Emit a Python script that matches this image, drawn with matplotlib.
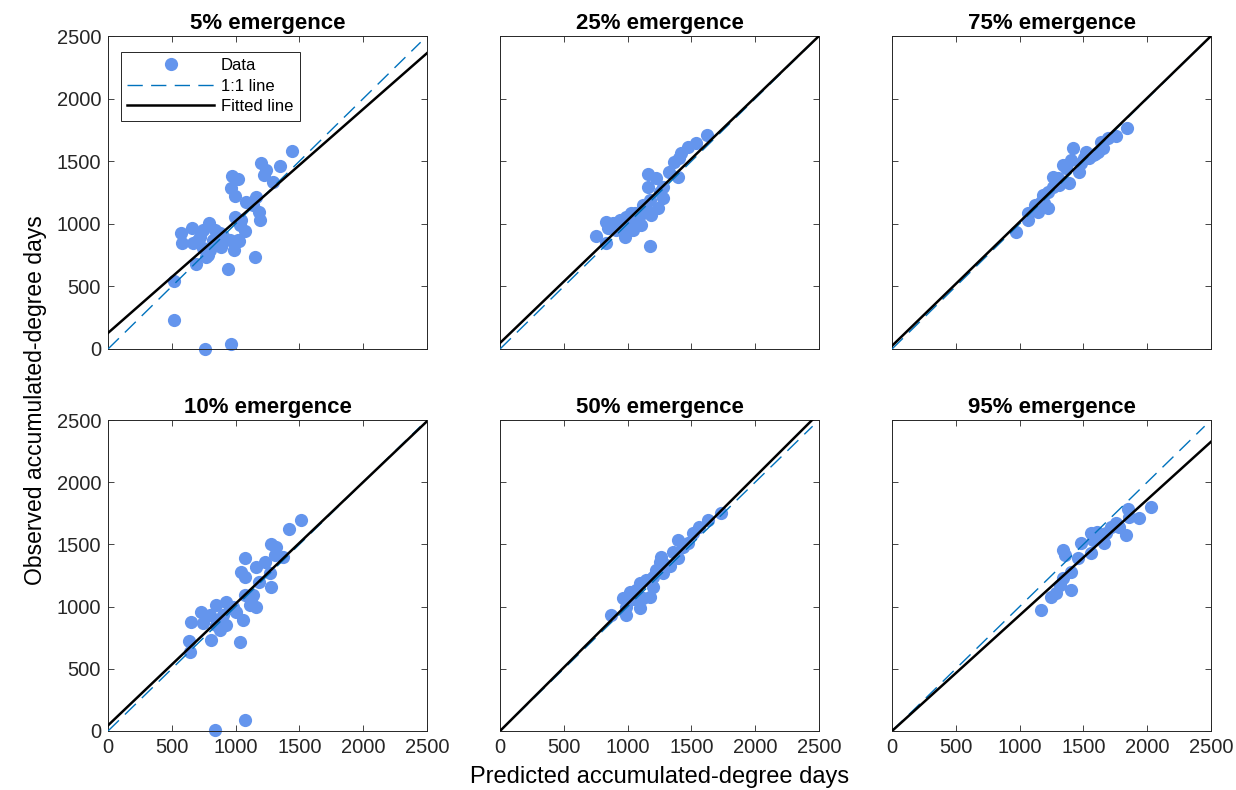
import matplotlib
matplotlib.use("Agg")
from matplotlib import pyplot as plt

plt.rcParams['font.family'] = ['Liberation Sans', 'DejaVu Sans']

titles = ["5% emergence", "25% emergence", "75% emergence",
          "10% emergence", "50% emergence", "95% emergence"]

# predicted / observed accumulated-degree days
pred_05 = [516, 516, 758, 961, 1440, 1201, 1240, 1219, 1349, 1292, 974, 1018, 966, 992,
           1078, 1156, 1135, 1187, 1195, 992, 1044, 1070, 1023, 984, 1153, 940, 693, 784,
           575, 659, 581, 667, 719, 792, 745, 836, 875, 823, 888, 745, 797, 953, 1031, 706,
           1018, 771, 900, 860]
obs_05 = [543, 232, 0, 40, 1582, 1483, 1430, 1390, 1465, 1337, 1385, 1358, 1284, 1222,
          1177, 1212, 1150, 1097, 1030, 1052, 1030, 945, 865, 791, 737, 639, 676, 751,
          929, 964, 849, 844, 897, 1003, 950, 950, 924, 871, 817, 804, 791, 871, 991, 871,
          871, 738, 900, 860]

pred_25 = [1622, 1536, 1471, 1419, 1406, 1367, 1328, 1393, 1159, 1224, 1159, 1276, 1250,
           1172, 1276, 1237, 1146, 1185, 1094, 1029, 990, 938, 885, 833, 846, 911, 963,
           1055, 1107, 755, 833, 977, 1172, 1016, 1120, 938, 1042, 1060]
obs_25 = [1709, 1648, 1616, 1563, 1523, 1496, 1416, 1376, 1398, 1363, 1296, 1296, 1256,
          1190, 1204, 1124, 1110, 1070, 1070, 1084, 1057, 1030, 1004, 1017, 964, 950, 977,
          1017, 990, 902, 844, 897, 825, 1030, 1150, 977, 950, 1090]

pred_75 = [1841, 1755, 1690, 1638, 1651, 1612, 1573, 1521, 1547, 1417, 1404, 1482, 1469,
           1365, 1391, 1260, 1299, 1260, 1221, 1182, 1169, 1221, 1143, 1065, 1065, 974,
           1117, 1195, 1339, 1508, 1305, 1590]
obs_75 = [1763, 1704, 1683, 1656, 1603, 1576, 1549, 1576, 1523, 1608, 1510, 1483, 1416,
          1443, 1323, 1376, 1363, 1296, 1256, 1230, 1177, 1124, 1097, 1084, 1030, 937,
          1150, 1164, 1470, 1523, 1310, 1560]

pred_10 = [1513, 1422, 1279, 1318, 1070, 1044, 1070, 1162, 1227, 1305, 1370, 1187, 1279,
           1266, 1070, 1135, 1161, 1109, 1057, 1005, 953, 901, 849, 731, 797, 654, 745,
           849, 927, 875, 810, 1031, 635, 646, 836, 1070, 927, 980, 1120, 880]
obs_10 = [1696, 1624, 1501, 1482, 1388, 1281, 1240, 1321, 1356, 1415, 1401, 1200, 1160,
          1268, 1093, 1093, 999, 1013, 892, 959, 986, 933, 1013, 959, 933, 879, 866, 852,
          852, 812, 732, 718, 724, 633, 8, 88, 1040, 1000, 1050, 900]

pred_50 = [1732, 1628, 1563, 1510, 1471, 1393, 1432, 1354, 1393, 1263, 1250, 1302, 1224,
           1198, 1146, 1094, 1198, 1172, 1068, 1016, 963, 990, 1094, 873, 990, 1120, 1276,
           1330, 1040]
obs_50 = [1750, 1696, 1642, 1589, 1509, 1535, 1482, 1441, 1388, 1401, 1361, 1334, 1294,
          1240, 1214, 1187, 1160, 1080, 1133, 1120, 1066, 999, 986, 933, 933, 1066, 1267,
          1330, 1060]

pred_95 = [2029, 1846, 1938, 1859, 1833, 1755, 1716, 1677, 1638, 1560, 1573, 1482, 1560,
           1664, 1339, 1352, 1456, 1404, 1339, 1313, 1404, 1248, 1167, 1781, 1287, 1610]
obs_95 = [1803, 1782, 1710, 1723, 1576, 1670, 1642, 1589, 1562, 1589, 1535, 1509, 1428,
          1509, 1455, 1415, 1388, 1281, 1227, 1174, 1134, 1080, 973, 1642, 1107, 1600]

# fitted line: intercept, slope
fit_int = [128, 48, 25, 45, 0, 0]
fit_slope = [0.894, 0.981, 0.990, 0.978, 1.022, 0.930]

preds = [pred_05, pred_25, pred_75, pred_10, pred_50, pred_95]
obss = [obs_05, obs_25, obs_75, obs_10, obs_50, obs_95]

ticks = [0, 500, 1000, 1500, 2000, 2500]
one_to_one = [0, 2450]
x_fit = [0, 2500]

W, H = 1236, 790
fig = plt.figure(figsize=(W / 100, H / 100), dpi=100)

lefts = [108, 500, 892]
tops = [36, 420]
bottoms = [349, 731]
aw = 319

for i in range(6):
    r, c = divmod(i, 3)
    ax = fig.add_axes([lefts[c] / W, 1 - bottoms[r] / H, aw / W,
                       (bottoms[r] - tops[r]) / H])
    ax.plot(preds[i], obss[i], 'o', color='#6495ED', ms=9.5, mew=0,
            clip_on=False, zorder=2, label='Data')
    ax.plot(one_to_one, one_to_one, '--', color='#0072BD', lw=1,
            dashes=(11, 6), zorder=3, label='1:1 line')
    ax.plot(x_fit, [fit_int[i] + fit_slope[i] * x for x in x_fit], '-',
            color='black', lw=1.8, zorder=4, label='Fitted line')
    ax.set_xlim(0, 2500)
    ax.set_ylim(0, 2500)
    ax.set_xticks(ticks)
    ax.set_yticks(ticks)
    ax.tick_params(direction='in', top=True, right=True, length=4,
                   width=0.6, labelsize=14.5, colors='#262626', pad=5)
    for s in ax.spines.values():
        s.set_linewidth(0.7)
        s.set_color('#262626')
    if r == 0:
        ax.set_xticklabels([])
    if c > 0:
        ax.set_yticklabels([])
    ax.set_title(titles[i], fontsize=16, fontweight='bold', pad=5)
    if i == 0:
        leg = ax.legend(loc='upper left', fontsize=12, frameon=True,
                        fancybox=False, edgecolor='#262626', framealpha=1,
                        handlelength=5.2, handletextpad=0.4, borderpad=0.4,
                        labelspacing=0.32, borderaxespad=0,
                        bbox_to_anchor=(0.04, 0.95))
        leg.get_frame().set_linewidth(0.7)

fig.text(36 / W, 1 - 400 / H, 'Observed accumulated-degree days', rotation=90,
         ha='center', va='center', fontsize=16.5)
fig.text(660 / W, 1 - 777 / H, 'Predicted accumulated-degree days',
         ha='center', va='center', fontsize=17)

fig.savefig('out.png', dpi=100)
